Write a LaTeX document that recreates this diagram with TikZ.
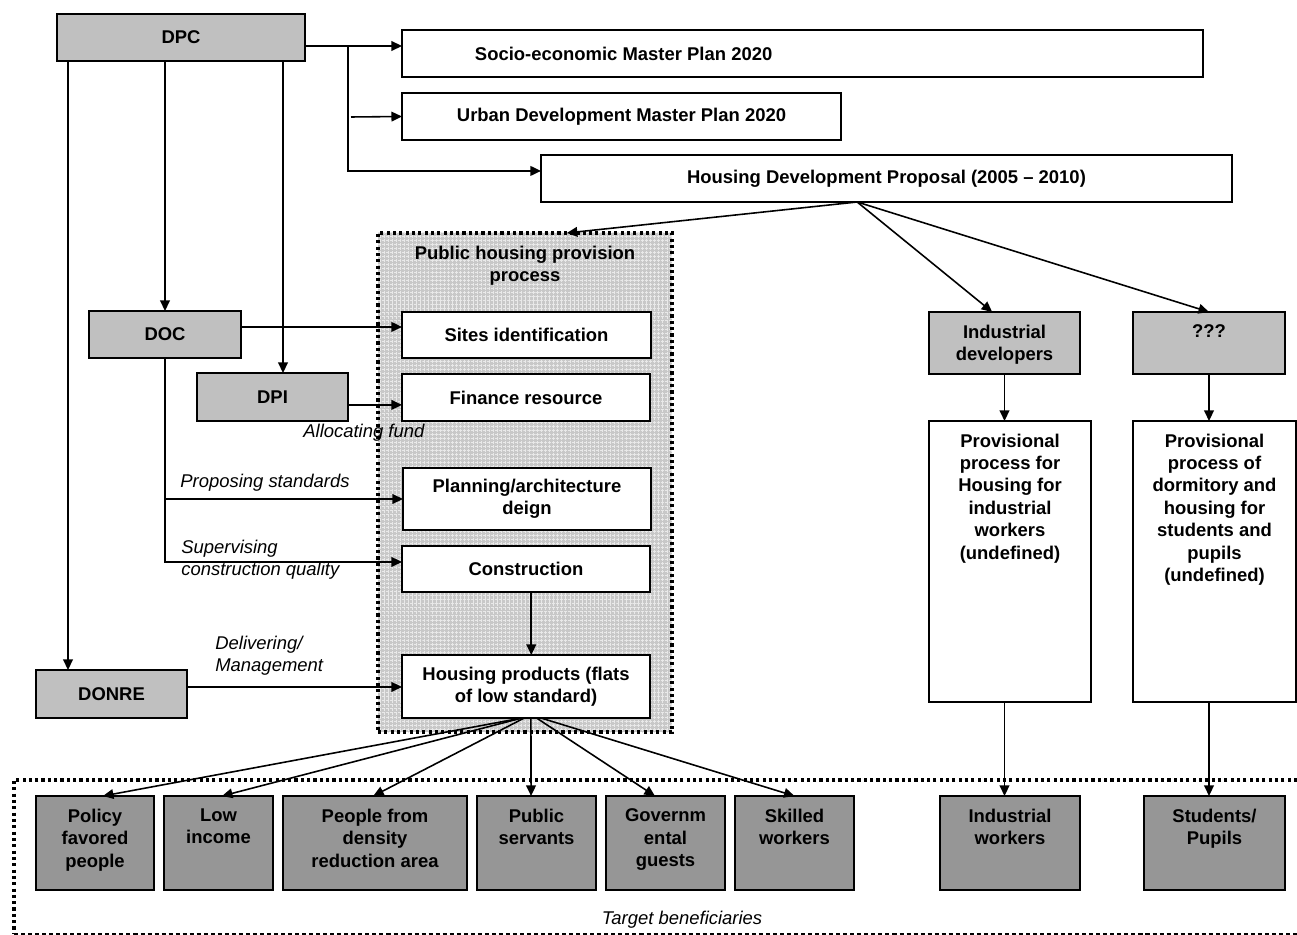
\documentclass[tikz,border=0pt]{standalone}
\usepackage{fontspec}
\setmainfont{Liberation Sans}
\usetikzlibrary{arrows.meta}
\usetikzlibrary{patterns.meta}

\definecolor{topgray}{HTML}{C0C0C0}
\definecolor{botgray}{HTML}{969696}
\definecolor{procgray}{HTML}{C8C8C8}
\newcommand{\diagfont}{\fontsize{10.5}{12.8}\selectfont}

\tikzset{
	box/.style={draw, fill=white, line width=0.9pt, inner sep=0pt, outer sep=0pt, align=center},
	lightbox/.style={box, fill=topgray},
	darkbox/.style={box, fill=botgray},
	sz/.style 2 args={minimum width=#1*0.02cm, minimum height=#2*0.02cm},
	toptext/.style={label={[anchor=north, yshift=-7pt, inner sep=0pt, align=center]north:{#1}}},
	procbox/.style={draw, line width=1.8pt, dash pattern=on 1.8pt off 1.8pt, inner sep=0pt, outer sep=0pt,
		preaction={fill=procgray}, pattern={Hatch[distance=2.3pt, line width=0.3pt]}, pattern color=white!60!procgray},
	dotline/.style={line width=1.8pt, dash pattern=on 1.8pt off 1.8pt},
	dashline/.style={line width=0.6pt, dash pattern=on 2.3pt off 1.7pt},
	arr/.style={line width=0.9pt, -{Triangle[length=6pt, width=5.5pt]}},
	note/.style={font=\diagfont\mdseries\itshape, align=left, inner sep=0pt},
}

\begin{document}
\begin{tikzpicture}[x=0.02cm, y=-0.02cm, font=\diagfont\bfseries]
		\useasboundingbox (0,0) rectangle (1297,935);
		% plans
		\node[lightbox, sz={248}{47}] (dpc) at (181,37.5) {DPC};
		\node[box, sz={801}{47}, label={[xshift=-101.8pt]center:Socio-economic Master Plan 2020}] (socio) at (802.5,53.5) {};
		\node[box, sz={439}{47}] (urban) at (621.5,116.5) {Urban Development Master Plan 2020};
		\node[box, sz={691}{47}] (hdp) at (886.5,178.5) {Housing Development Proposal (2005 -- 2010)};
		\coordinate (j1) at (348,46);
		\coordinate (j3) at (351,117);
		\draw[arr] (dpc.east |- j1) -- (socio.west |- j1);
		\draw[arr] (j1) |- ([yshift=4.3pt]hdp.west);
		\draw[arr] (j3) -- (urban.west);
		% departments
		\node[lightbox, sz={152}{47}] (doc) at (165,334.5) {DOC};
		\node[lightbox, sz={151}{48}] (dpi) at (272.5,397) {DPI};
		\node[lightbox, sz={151}{48}] (donre) at (111.5,694) {DONRE};
		\coordinate (d1) at (68,0);
		\coordinate (d3) at (283,0);
		\draw[arr] (dpc.south -| d1) -- (donre.north -| d1);
		\draw[arr] (dpc.south -| doc) -- (doc.north);
		\draw[arr] (dpc.south -| d3) -- (dpi.north -| d3);
		% public housing provision process
		\node[procbox, sz={294}{499}, toptext={Public housing provision\\process}] (proc) at (525,482.5) {};
		\node[box, sz={249}{46}] (sites) at (526.5,335) {Sites identification};
		\node[box, sz={248}{47}] (finance) at (526,397.5) {Finance resource};
		\node[box, sz={248}{62}] (planning) at (527,499) {Planning/architecture\\deign};
		\node[box, sz={248}{46}] (constr) at (526,569) {Construction};
		\node[box, sz={248}{63}] (products) at (526,686.5) {Housing products (flats\\of low standard)};
		\draw[arr] ([xshift=3pt]constr.south) -- ([xshift=3pt]products.north);
		\draw[arr] ([yshift=4.3pt]doc.east) -- ([yshift=4.3pt]doc.east -| sites.west);
		\draw[arr] ([yshift=-4.5pt]dpi.east) -- ([yshift=-4.5pt]dpi.east -| finance.west);
		\draw[arr] (doc.south |- planning.west) -- (planning.west);
		\draw[arr] (doc.south) |- ([yshift=4pt]constr.west);
		\draw[arr] ([yshift=4pt]donre.east) -- ([yshift=4pt]donre.east -| products.west);
		\node[note, anchor=west] (allocnote) at (303,433) {Allocating fund};
		\node[note, anchor=west] (proposenote) at (180,483) {Proposing standards};
		\node[note, anchor=west] (supervisenote) at (181,559.5) {Supervising\\construction quality};
		\node[note, anchor=west] (delivernote) at (215,655.5) {Delivering/\\Management};
		% other provision
		\node[lightbox, sz={151}{62}, toptext={Industrial\\developers}] (inddev) at (1004.5,343) {};
		\node[lightbox, sz={152}{62}, toptext={???}] (unknown) at (1209,343) {};
		\node[box, sz={162}{281}, toptext={Provisional\\process for\\Housing for\\industrial\\workers\\(undefined)}] (prov1) at (1010,561.5) {};
		\node[box, sz={163}{281}, toptext={Provisional\\process of\\dormitory and\\housing for\\students and\\pupils\\(undefined)}] (prov2) at (1214.5,561.5) {};
		\coordinate (hdpfoot) at ([xshift=-16.7pt]hdp.south);
		\draw[arr] (hdpfoot) -- ([xshift=23.8pt]proc.north);
		\draw[arr] (hdpfoot) -- ([xshift=-7pt]inddev.north);
		\draw[arr] (hdpfoot) -- (unknown.north);
		\draw[arr] (inddev.south) -- (inddev.south |- prov1.north);
		\draw[arr] (unknown.south) -- (unknown.south |- prov2.north);
		% target beneficiaries
		\coordinate (tl) at (14,780);
		\coordinate (tr) at (1297,780);
		\coordinate (bl) at (14,934);
		\coordinate (br) at (1297,934);
		\draw[dotline] (tr) -- (tl) -- (bl);
		\draw[dashline] (bl) -- (br);
		\node[note] (target) at (682,920) {Target beneficiaries};
		\node[darkbox, sz={118}{94}, toptext={Policy\\favored\\people}] (policy) at (95,843) {};
		\node[darkbox, sz={109}{94}, toptext={Low\\income}] (lowinc) at (218.5,843) {};
		\node[darkbox, sz={184}{94}, toptext={People from\\density\\reduction area}] (density) at (375,843) {};
		\node[darkbox, sz={119}{94}, toptext={Public\\servants}] (servants) at (536.5,843) {};
		\node[darkbox, sz={119}{94}, toptext={Governm\\ental\\guests}] (guests) at (665.5,843) {};
		\node[darkbox, sz={119}{94}, toptext={Skilled\\workers}] (skilled) at (794.5,843) {};
		\node[darkbox, sz={140}{94}, toptext={Industrial\\workers}] (indwork) at (1010,843) {};
		\node[darkbox, sz={141}{94}, toptext={Students/\\Pupils}] (students) at (1214.5,843) {};
		\foreach \s/\t/\e in {-2.3/policy/4.5, -2.3/lowinc/2, -1/density/-1, 2.8/servants/-3.1, 6/guests/-6, 8.5/skilled/0}
			\draw[arr] ([xshift=\s pt]products.south) -- ([xshift=\e pt]\t.north);
		\draw[arr] (prov1.south -| inddev) -- (indwork.north -| inddev);
		\draw[arr] (prov2.south -| unknown) -- (students.north -| unknown);
\end{tikzpicture}
\end{document}
